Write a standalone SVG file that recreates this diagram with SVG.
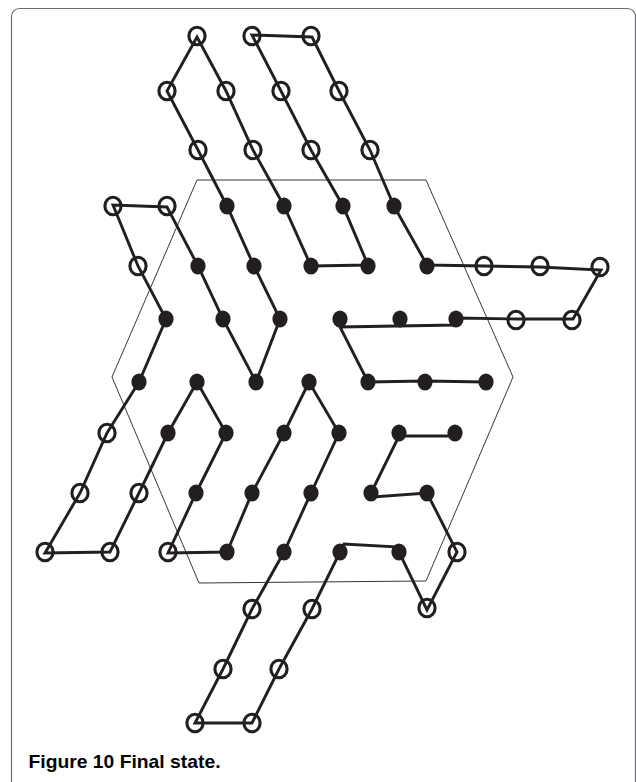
<svg xmlns="http://www.w3.org/2000/svg" width="636" height="782" viewBox="0 0 636 782">
<style>
.o{fill:none;stroke:#231f20;stroke-width:3.1}
.f{fill:#231f20;stroke:none}
.chain{fill:none;stroke:#231f20;stroke-width:2.9;stroke-linejoin:miter;stroke-miterlimit:4}
.hex{fill:none;stroke:#231f20;stroke-width:0.9}
.frame{fill:#fff;stroke:#6d6e71;stroke-width:1.2}
.cap{font-family:"Liberation Sans",Arial,sans-serif;font-weight:bold;font-size:19px;fill:#000}
</style>
<defs>
<ellipse id="oc" rx="8.1" ry="8.8"/>
<ellipse id="fc" rx="7.6" ry="8.6"/>
</defs>
<rect class="frame" x="11.5" y="8.5" width="624" height="800" rx="8" ry="8"/>
<g id="hexagon">
<polygon class="hex" points="197,180 426,180 513,377 426,581 199,583 112,377"/>
</g>
<g id="connectors">
<path class="chain" d="M455,436 L399,436 L371,493 L373,497 L427,493 L457,552 L427,610 L399,552 L399,547 L344,544 L340,552 L312,609 L279,669 L252,723 L195,723 L223,669 L252,609 L284,552 L311,493 L339,433 L309,382 L284,433 L252,493 L227,552 L168,553 L196,493 L226,433 L197,382 L168,433 L139,493 L110,552 L45,553 L80,493 L107,433 L139,382 L166,319 L138,266 L113,205 L167,207 L198,266 L223,319 L256,382 L280,319 L254,266 L227,206 L198,150 L167,91 L197,37 L226,91 L253,150 L284,206 L311,266 L368,265 L343,206 L311,150 L281,91 L252,35 L312,37 L339,91 L370,150 L394,206 L427,265 L484,266 L540,267 L601,270 L573,319 L516,319 L456,318 L455,325 L340,327 L368,382 L425,381 L486,382"/>
</g>
<g id="open-nodes" class="o">
<g id="n1"><use href="#oc" x="197" y="36"/></g>
<g id="n2"><use href="#oc" x="252" y="36"/></g>
<g id="n3"><use href="#oc" x="311" y="36"/></g>
<g id="n4"><use href="#oc" x="167" y="91"/></g>
<g id="n5"><use href="#oc" x="226" y="91"/></g>
<g id="n6"><use href="#oc" x="281" y="91"/></g>
<g id="n7"><use href="#oc" x="339" y="91"/></g>
<g id="n8"><use href="#oc" x="198" y="150"/></g>
<g id="n9"><use href="#oc" x="253" y="150"/></g>
<g id="n10"><use href="#oc" x="311" y="150"/></g>
<g id="n11"><use href="#oc" x="370" y="150"/></g>
<g id="n12"><use href="#oc" x="113" y="206"/></g>
<g id="n13"><use href="#oc" x="167" y="206"/></g>
<g id="n14"><use href="#oc" x="138" y="266"/></g>
<g id="n15"><use href="#oc" x="484" y="266"/></g>
<g id="n16"><use href="#oc" x="540" y="266"/></g>
<g id="n17"><use href="#oc" x="600" y="267"/></g>
<g id="n18"><use href="#oc" x="516" y="320"/></g>
<g id="n19"><use href="#oc" x="572" y="320"/></g>
<g id="n20"><use href="#oc" x="107" y="433"/></g>
<g id="n21"><use href="#oc" x="80" y="493"/></g>
<g id="n22"><use href="#oc" x="139" y="493"/></g>
<g id="n23"><use href="#oc" x="45" y="552"/></g>
<g id="n24"><use href="#oc" x="110" y="552"/></g>
<g id="n25"><use href="#oc" x="168" y="552"/></g>
<g id="n26"><use href="#oc" x="457" y="552"/></g>
<g id="n27"><use href="#oc" x="252" y="609"/></g>
<g id="n28"><use href="#oc" x="312" y="609"/></g>
<g id="n29"><use href="#oc" x="427" y="608"/></g>
<g id="n30"><use href="#oc" x="223" y="669"/></g>
<g id="n31"><use href="#oc" x="279" y="669"/></g>
<g id="n32"><use href="#oc" x="195" y="723"/></g>
<g id="n33"><use href="#oc" x="252" y="723"/></g>
</g>
<g id="filled-nodes" class="f">
<g id="n34"><use href="#fc" x="227" y="206"/></g>
<g id="n35"><use href="#fc" x="284" y="206"/></g>
<g id="n36"><use href="#fc" x="343" y="206"/></g>
<g id="n37"><use href="#fc" x="394" y="206"/></g>
<g id="n38"><use href="#fc" x="198" y="266"/></g>
<g id="n39"><use href="#fc" x="254" y="266"/></g>
<g id="n40"><use href="#fc" x="311" y="266"/></g>
<g id="n41"><use href="#fc" x="368" y="266"/></g>
<g id="n42"><use href="#fc" x="427" y="266"/></g>
<g id="n43"><use href="#fc" x="166" y="319"/></g>
<g id="n44"><use href="#fc" x="223" y="319"/></g>
<g id="n45"><use href="#fc" x="280" y="319"/></g>
<g id="n46"><use href="#fc" x="340" y="319"/></g>
<g id="n47"><use href="#fc" x="400" y="319"/></g>
<g id="n48"><use href="#fc" x="456" y="319"/></g>
<g id="n49"><use href="#fc" x="139" y="382"/></g>
<g id="n50"><use href="#fc" x="197" y="382"/></g>
<g id="n51"><use href="#fc" x="256" y="382"/></g>
<g id="n52"><use href="#fc" x="309" y="382"/></g>
<g id="n53"><use href="#fc" x="368" y="382"/></g>
<g id="n54"><use href="#fc" x="425" y="382"/></g>
<g id="n55"><use href="#fc" x="486" y="382"/></g>
<g id="n56"><use href="#fc" x="168" y="433"/></g>
<g id="n57"><use href="#fc" x="226" y="433"/></g>
<g id="n58"><use href="#fc" x="284" y="433"/></g>
<g id="n59"><use href="#fc" x="339" y="433"/></g>
<g id="n60"><use href="#fc" x="399" y="433"/></g>
<g id="n61"><use href="#fc" x="455" y="433"/></g>
<g id="n62"><use href="#fc" x="196" y="493"/></g>
<g id="n63"><use href="#fc" x="252" y="493"/></g>
<g id="n64"><use href="#fc" x="311" y="493"/></g>
<g id="n65"><use href="#fc" x="371" y="493"/></g>
<g id="n66"><use href="#fc" x="427" y="493"/></g>
<g id="n67"><use href="#fc" x="227" y="552"/></g>
<g id="n68"><use href="#fc" x="284" y="552"/></g>
<g id="n69"><use href="#fc" x="340" y="552"/></g>
<g id="n70"><use href="#fc" x="399" y="552"/></g>
</g>
<text class="cap" x="28.5" y="768" textLength="192" lengthAdjust="spacingAndGlyphs">Figure 10 Final state.</text>
</svg>
